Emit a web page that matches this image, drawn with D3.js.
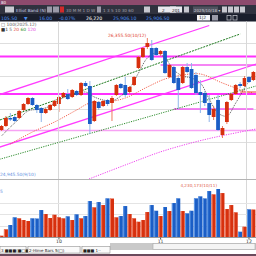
<!DOCTYPE html>
<html lang="en">
<head>
<meta charset="UTF-8">
<title>futures chart</title>
<script src="https://cdn.jsdelivr.net/npm/d3@7"></script>
<style>
body { margin: 0; background: #fff; }
svg { display: block; font-family: 'DejaVu Sans', sans-serif; }
</style>
</head>
<body>
<svg id="chart" width="256" height="256"></svg>
<script>
// candles (index 1..58)
var opens  = [25430,25470,25550,25560,25550,25630,25690,25750,25680,25650,25600,25630,25670,25690,25760,25790,25760,25820,25780,25900,
              25870,25520,25710,25670,25730,25700,25780,25890,25880,25810,25880,26050,26160,26260,26250,26250,26190,26220,25960,26060,
              25950,25900,26060,26040,25980,25810,25800,25700,25560,25730,25380,25510,25730,25790,25890,25870,25960,25930];
var highs  = [25480,25570,25600,25580,25630,25700,25760,25760,25690,25660,25650,25690,25730,25770,25810,25840,25840,25830,25910,25920,
              25920,25730,25720,25730,25740,25770,25890,25900,25960,25870,25970,26170,26260,26350,26330,26260,26230,26230,26090,26070,
              25970,26070,26100,26100,26010,25930,25820,25780,25670,25780,25470,25720,25800,25890,25910,25970,25970,26020];
var lows   = [25420,25460,25520,25510,25540,25620,25680,25670,25600,25510,25590,25620,25660,25610,25750,25730,25750,25770,25770,25860,
              25390,25510,25630,25660,25670,25520,25770,25840,25760,25790,25870,26040,26150,26240,26120,26170,26170,25990,25950,25890,
              25640,25890,26000,25840,25780,25600,25670,25510,25530,25420,25350,25490,25720,25780,25850,25860,25900,25920];
var closes = [25470,25550,25535,25520,25620,25690,25750,25680,25630,25600,25640,25680,25720,25760,25800,25740,25830,25780,25900,25870,
              25490,25720,25650,25720,25690,25750,25880,25850,25780,25860,25960,26160,26250,26300,26130,26180,26220,26000,26080,25900,
              25830,26060,26010,25850,25800,25780,25700,25580,25640,25430,25450,25710,25790,25880,25870,25950,25910,26010];
// volume in thousands
var volumes = [115,678,1056,1734,1646,1496,1408,1646,1630,2376,2024,1672,1962,1734,1646,1822,1496,1998,1646,1848,
               3168,2614,3080,2816,3406,3390,1734,1848,2728,2024,1646,1346,1496,2200,2816,2314,1848,2640,2288,2992,
               3406,2288,2086,2314,3406,3582,3400,4048,3758,4230,3872,2464,2816,2174,466,906,2438,2420];

// short average (black dotted) and long average (red dotted), [candle index, price]
var maShort = [[1,25370],[3,25460],[5,25540],[7,25620],[10,25640],[12,25670],[14,25730],[16,25770],[18,25790],[20,25810],
               [22,25760],[24,25730],[26,25720],[28,25770],[30,25850],[32,26000],[34,26150],[36,26200],[38,26150],[40,26030],
               [42,25970],[44,25950],[46,25900],[48,25740],[50,25600],[52,25570],[54,25700],[56,25850],[58,25990]];
var maLong = [[3,25290],[8,25410],[13,25510],[18,25630],[21,25700],[25,25710],[29,25750],[34,25860],[38,25940],
              [42,25980],[46,25990],[51,25900],[56,25820],[58,25800]];
var lowBand = [[20.8,24940],[29.6,25090],[36.9,25210],[43.9,25300],[58.6,25440]];

// drawn trend lines, [[idx, price],[idx, price]]
var channelTop = [[0,25775],[48,26475]];
var channelLow = [[0,25250],[59,26095]];
var greenTop = [[0,25520],[55,26390]];
var greenLow = [[0,25130],[59,25875]];

// horizontal levels
var levelsThick = [26165, 25790];
var levelsThin = [[26080, 37, 59], [25640, 40, 58], [25425, 0, 59]];
var gridPrices = [26300, 25970, 25640, 25310];
var gridVol = [1000, 2000, 3000];
var dayTicks = [[14, "10"], [37, "11"], [57, "12"]];

var svg = d3.select("#chart");
var W = 256;

var x = d3.scaleLinear().domain([1, 58]).range([1.5, 253.4]);
var y = d3.scaleLinear().domain([24950, 26460]).range([178, 27]);
var yv = d3.scaleLinear().domain([0, 4230]).range([237, 189]);

var UP = "#d7300e", UPL = "#ef7a5e", DN = "#1b5ec6", DNL = "#8fb5ea";

// ---- top window chrome ----
svg.append("rect").attr("x", 0).attr("y", 0).attr("width", W).attr("height", 5).attr("fill", "#8d4a6d");
svg.append("text").attr("x", 1).attr("y", 4).attr("font-size", 4).attr("fill", "#fff").text("80");
svg.append("rect").attr("x", 0).attr("y", 5).attr("width", W).attr("height", 9).attr("fill", "#30323f");
svg.append("rect").attr("x", 0).attr("y", 14).attr("width", W).attr("height", 7.5).attr("fill", "#1a1e2c");

var tb = svg.append("g");
[[5,9,"#c8c8d0"],[47,5,"#9a9aa8"],[53,6,"#9a9aa8"],[60,4,"#d02a2a"],[97,4,"#9a9aa8"],[144,6,"#c8c8d0"],
 [158,18,"#e8e8ee"],[170,12,"#e8e8ee"],[184,5,"#c8c8d0"],[193,25,"#50525f"],[222,5,"#c8c8d0"],[228,5,"#c8c8d0"],[234,5,"#c8c8d0"],[240,5,"#c8c8d0"]]
  .forEach(function(b) {
    tb.append("rect").attr("x", b[0]).attr("y", 6.5).attr("width", b[1]).attr("height", 6).attr("fill", b[2]);
  });
tb.append("text").attr("x", 16).attr("y", 11.5).attr("font-size", 4.2).attr("fill", "#c8d0e8").text("Elliot Band (N)");
tb.append("text").attr("x", 66).attr("y", 11.5).attr("font-size", 4.2).attr("fill", "#a0a0aa").text("30 M M 1 D W");
tb.append("text").attr("x", 103).attr("y", 11.5).attr("font-size", 4.2).attr("fill", "#a0a0aa").text("1  3  5 10 30 60");
tb.append("text").attr("x", 162).attr("y", 11.5).attr("font-size", 4.2).attr("fill", "#222").text("2");
tb.append("text").attr("x", 172).attr("y", 11.5).attr("font-size", 4.2).attr("fill", "#222").text("201");
tb.append("text").attr("x", 194).attr("y", 11.5).attr("font-size", 4).attr("fill", "#c8c8d0").text("2025/10/18 \u25BE");

var info = svg.append("g").attr("font-size", 4.6);
[[1,"105.50","#4d90ee"],[24,"\u25BC","#4d90ee"],[39,"16.00","#4d90ee"],[59,"-0.07%","#4d90ee"],
 [86,"26,220","#ffffff"],[113,"25,906.10","#4d90ee"],[146,"25,906.50","#4d90ee"]].forEach(function(t) {
  info.append("text").attr("x", t[0]).attr("y", 19.6).attr("fill", t[2]).text(t[1]);
});
svg.append("rect").attr("x", 197).attr("y", 15).attr("width", 13).attr("height", 5.5).attr("fill", "#f4f4f8");
svg.append("text").attr("x", 199).attr("y", 19.4).attr("font-size", 4.4).attr("fill", "#1a1e2c").text("1|2");
svg.append("rect").attr("x", 212).attr("y", 15).attr("width", 6).attr("height", 5.5).attr("fill", "#9a9aa8");
svg.append("rect").attr("x", 227).attr("y", 15.5).attr("width", 4).attr("height", 4.5).attr("fill", "none").attr("stroke", "#c8c8d0").attr("stroke-width", 0.7);
svg.append("rect").attr("x", 233).attr("y", 15.5).attr("width", 4).attr("height", 4.5).attr("fill", "none").attr("stroke", "#c8c8d0").attr("stroke-width", 0.7);

// ---- price panel ----
svg.append("defs").append("clipPath").attr("id", "pclip")
  .append("rect").attr("x", 0).attr("y", 21.5).attr("width", W).attr("height", 157.5);
var pg = svg.append("g").attr("clip-path", "url(#pclip)");

pg.selectAll(".grid").data(gridPrices).enter().append("line")
  .attr("x1", 0).attr("x2", W)
  .attr("y1", function(d) { return Math.round(y(d)) + 0.5; })
  .attr("y2", function(d) { return Math.round(y(d)) + 0.5; })
  .attr("stroke", "#dedede").attr("stroke-width", 1);

[58.5, 246.5].forEach(function(v) {
  svg.append("line").attr("x1", v).attr("x2", v).attr("y1", 21.5).attr("y2", 237)
    .attr("stroke", "#d8d8d8").attr("stroke-width", 1);
});

var seg = d3.line().x(function(d) { return x(d[0]); }).y(function(d) { return y(d[1]); });

// horizontal levels
levelsThin.forEach(function(l) {
  pg.append("line").attr("x1", x(l[1])).attr("x2", x(l[2]))
    .attr("y1", y(l[0])).attr("y2", y(l[0]))
    .attr("stroke", l[0] === 25425 ? "#f7a2f4" : "#f25cf0").attr("stroke-width", 1.3);
});
levelsThick.forEach(function(p) {
  pg.append("line").attr("x1", 0).attr("x2", W).attr("y1", y(p)).attr("y2", y(p))
    .attr("stroke", "#ff30ff").attr("stroke-width", 1.8);
});

// trend lines
pg.append("path").attr("d", seg(channelTop)).attr("fill", "none").attr("stroke", "#ff3cff").attr("stroke-width", 1.3);
pg.append("path").attr("d", seg(channelLow)).attr("fill", "none").attr("stroke", "#ff3cff").attr("stroke-width", 1.3);
pg.append("path").attr("d", seg(greenTop)).attr("fill", "none").attr("stroke", "#1e7a1e").attr("stroke-width", 1).attr("stroke-dasharray", "2,1");
pg.append("path").attr("d", seg(greenLow)).attr("fill", "none").attr("stroke", "#2a8a2a").attr("stroke-width", 1).attr("stroke-dasharray", "1.2,1.2");
pg.append("path").attr("d", d3.line().curve(d3.curveMonotoneX).x(function(d) { return x(d[0]); }).y(function(d) { return y(d[1]); })(lowBand))
  .attr("fill", "none").attr("stroke", "#ee40ee").attr("stroke-width", 1).attr("stroke-dasharray", "1.2,1.2");

var curve = d3.line().curve(d3.curveCatmullRom).x(function(d) { return x(d[0]); }).y(function(d) { return y(d[1]); });
pg.append("path").attr("d", curve(maLong)).attr("fill", "none").attr("stroke", "#f0503a").attr("stroke-width", 0.9).attr("stroke-dasharray", "1.2,1.2");
pg.append("path").attr("d", curve(maShort)).attr("fill", "none").attr("stroke", "#333").attr("stroke-width", 0.8).attr("stroke-dasharray", "1,1");
pg.append("line").attr("x1", x(55)).attr("x2", W).attr("y1", y(25810)).attr("y2", y(25810)).attr("stroke", "#e8402a").attr("stroke-width", 1);

// candles
var idx = d3.range(1, 59);
var cg = pg.selectAll(".c").data(idx).enter().append("g");
cg.append("line")
  .attr("x1", function(i) { return x(i); }).attr("x2", function(i) { return x(i); })
  .attr("y1", function(i) { return y(highs[i - 1]); }).attr("y2", function(i) { return y(lows[i - 1]); })
  .attr("stroke", function(i) { return closes[i - 1] >= opens[i - 1] ? UPL : DNL; }).attr("stroke-width", 1);
cg.append("rect")
  .attr("x", function(i) { return x(i) - 1.9; }).attr("width", 3.8)
  .attr("y", function(i) { return y(Math.max(opens[i - 1], closes[i - 1])); })
  .attr("height", function(i) { return Math.max(1, Math.abs(y(opens[i - 1]) - y(closes[i - 1]))); })
  .attr("fill", function(i) { return closes[i - 1] >= opens[i - 1] ? UP : DN; });

// labels
svg.append("text").attr("x", 1).attr("y", 25.5).attr("font-size", 4.4).attr("fill", "#555").text("\u25A1 100(2025.12)");
var lg = svg.append("text").attr("x", 1).attr("y", 30.5).attr("font-size", 4.4);
[["\u25A01 ", "#333"], ["5 ", "#666"], ["20 ", "#e0402a"], ["60 ", "#1e8a1e"], ["120", "#e040e0"]].forEach(function(s) {
  lg.append("tspan").attr("fill", s[1]).text(s[0]);
});
var hiIdx = d3.maxIndex(highs);
svg.append("text").attr("x", x(hiIdx + 1) - 1).attr("y", 37).attr("text-anchor", "end")
  .attr("font-size", 4.4).attr("fill", "#e03a2a").text("26,355.50(10/12)");
svg.append("text").attr("x", 0).attr("y", 176).attr("font-size", 4.4).attr("fill", "#5a8ee0").text("24,945.50(9/10)");

// ---- volume panel ----
svg.append("line").attr("x1", 0).attr("x2", W).attr("y1", 179.5).attr("y2", 179.5).attr("stroke", "#b4b4b4");
gridVol.forEach(function(v) {
  svg.append("line").attr("x1", 0).attr("x2", W).attr("y1", Math.round(yv(v)) + 0.5).attr("y2", Math.round(yv(v)) + 0.5)
    .attr("stroke", "#e4e4e4");
});
svg.append("text").attr("x", 0).attr("y", 193).attr("font-size", 4.4).attr("fill", "#5a8ee0").text("5");

var vg = svg.selectAll(".v").data(idx).enter().append("g");
vg.append("rect")
  .attr("x", function(i) { return x(i) - 2; }).attr("width", 4)
  .attr("y", function(i) { return yv(volumes[i - 1]); })
  .attr("height", function(i) { return yv(0) - yv(volumes[i - 1]); })
  .attr("fill", function(i) { return closes[i - 1] >= opens[i - 1] ? UP : DN; });
vg.append("rect")
  .attr("x", function(i) { return x(i) - 2; }).attr("width", 1)
  .attr("y", function(i) { return yv(volumes[i - 1]); })
  .attr("height", function(i) { return yv(0) - yv(volumes[i - 1]); })
  .attr("fill", function(i) { return closes[i - 1] >= opens[i - 1] ? UPL : "#5e98e6"; });

var vmax = d3.maxIndex(volumes);
svg.append("text").attr("x", x(vmax + 1) - 1).attr("y", 187).attr("text-anchor", "end")
  .attr("font-size", 4.2).attr("fill", "#e05a4a").text("4,230,173(10/11)");

// ---- time axis ----
svg.append("line").attr("x1", 0).attr("x2", W).attr("y1", 237.5).attr("y2", 237.5).attr("stroke", "#9a9a9a");
dayTicks.forEach(function(t) {
  svg.append("line").attr("x1", x(t[0])).attr("x2", x(t[0])).attr("y1", 237.5).attr("y2", 239.5).attr("stroke", "#555");
  svg.append("text").attr("x", x(t[0])).attr("y", 242.5).attr("text-anchor", "middle")
    .attr("font-size", 4.6).attr("fill", "#333").text(t[1]);
});

// scrollbar + status bar
svg.append("rect").attr("x", 110).attr("y", 243).attr("width", 146).attr("height", 7).attr("fill", "#c9c9c9");
svg.append("rect").attr("x", 153).attr("y", 243.5).attr("width", 102).attr("height", 6).attr("fill", "#f4f4f4").attr("stroke", "#a8a8a8").attr("stroke-width", 0.6);
svg.append("rect").attr("x", 0).attr("y", 246).attr("width", 110).attr("height", 8).attr("fill", "#e6e6e6");
[[0,26,"3 \u25A0\u25A0\u25A0(\u25A0\u25A1\u25A0)"],[28,52,"2-Hime Bars 5(\u25A1)"],[82,28,"\u25A0\u25A0\u25A0 1\u00B7\u00B7"]].forEach(function(s) {
  svg.append("rect").attr("x", s[0]).attr("y", 246.5).attr("width", s[1]).attr("height", 6.5).attr("fill", "#fafafa").attr("stroke", "#888").attr("stroke-width", 0.5);
  svg.append("text").attr("x", s[0] + 1).attr("y", 251.5).attr("font-size", 4).attr("fill", "#222").text(s[2]);
});
svg.append("rect").attr("x", 0).attr("y", 254).attr("width", W).attr("height", 2).attr("fill", "#6b4a5c");
</script>
</body>
</html>
